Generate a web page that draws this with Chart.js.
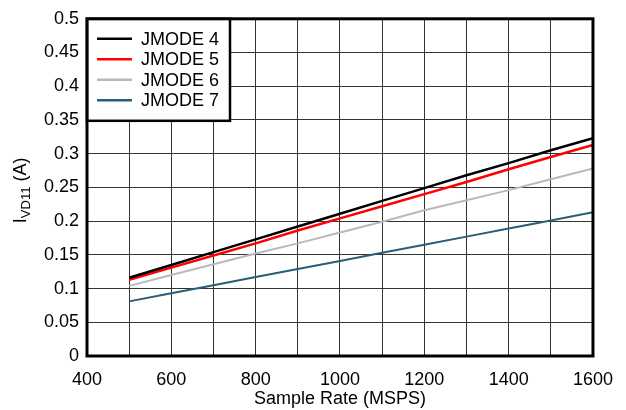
<!DOCTYPE html>
<html>
<head>
<meta charset="UTF-8">
<title>IVD11 vs Sample Rate</title>
<script src="https://cdn.jsdelivr.net/npm/chart.js@4"></script>
<style>
  body { margin: 0; background: #fff; }
  #wrap { width: 626px; height: 410px; }
</style>
</head>
<body>
<div id="wrap"><canvas id="myChart" width="626" height="410"></canvas></div>
<script>
// sample rate (MSPS)
var rates = [500, 600, 700, 800, 900, 1000, 1100, 1200, 1300, 1400, 1500, 1600];
// IVD11 current (A)
var jmode4 = [0.116, 0.135, 0.154, 0.173, 0.192, 0.211, 0.230, 0.249, 0.268, 0.286, 0.305, 0.323];
var jmode5 = [0.113, 0.131, 0.149, 0.167, 0.186, 0.204, 0.222, 0.240, 0.258, 0.277, 0.295, 0.313];
var jmode6 = [0.104, 0.120, 0.136, 0.152, 0.167, 0.183, 0.199, 0.216, 0.231, 0.246, 0.262, 0.278];
var jmode7 = [0.081, 0.093, 0.105, 0.117, 0.129, 0.141, 0.153, 0.165, 0.177, 0.189, 0.201, 0.213];
var seriesNames = ['JMODE 4', 'JMODE 5', 'JMODE 6', 'JMODE 7'];
var seriesColors = ['#000000', '#ff0000', '#b9b9b9', '#2b5d78'];
var xTickLabels = [400, 600, 800, 1000, 1200, 1400, 1600];

var FONT = '"Liberation Sans", Arial, Helvetica, sans-serif';

function pts(arr) {
  return arr.map(function (v, i) { return { x: rates[i], y: v }; });
}

var allSeries = [jmode4, jmode5, jmode6, jmode7];
var datasets = allSeries.map(function (s, i) {
  return {
    label: seriesNames[i],
    data: pts(s),
    borderColor: seriesColors[i],
    backgroundColor: seriesColors[i],
    borderWidth: i < 2 ? 2.5 : 2,
    pointRadius: 0,
    tension: 0
  };
});

// frame, legend box and subscripted y title
var extras = {
  id: 'extras',
  afterDatasetsDraw: function (chart) {
    var c = chart.ctx, a = chart.chartArea;
    c.save();
    // legend box
    var lx = a.left, ly = a.top, lw = 143, lh = 102;
    c.fillStyle = '#fff';
    c.fillRect(lx, ly, lw, lh);
    c.strokeStyle = '#000';
    c.lineWidth = 2.5;
    c.strokeRect(lx, ly, lw, lh);
    c.font = '18px ' + FONT;
    c.textBaseline = 'middle';
    for (var i = 0; i < seriesNames.length; i++) {
      var yy = ly + 20 + i * 20.5;
      c.strokeStyle = seriesColors[i];
      c.lineWidth = 2.5;
      c.beginPath();
      c.moveTo(lx + 10, yy);
      c.lineTo(lx + 45, yy);
      c.stroke();
      c.fillStyle = '#000';
      c.fillText(seriesNames[i], lx + 54, yy + 1);
    }
    // plot frame
    c.strokeStyle = '#000';
    c.lineWidth = 3;
    c.strokeRect(a.left, a.top, a.right - a.left, a.bottom - a.top);
    // y axis title: I_VD11 (A)
    c.translate(20, (a.top + a.bottom) / 2 + 3);
    c.rotate(-Math.PI / 2);
    c.fillStyle = '#000';
    c.textBaseline = 'alphabetic';
    c.font = '18px ' + FONT;
    var w1 = c.measureText('I').width;
    c.font = '13px ' + FONT;
    var w2 = c.measureText('VD11').width;
    c.font = '18px ' + FONT;
    var w3 = c.measureText(' (A)').width;
    var x0 = -(w1 + w2 + w3) / 2;
    c.fillText('I', x0, 6);
    c.font = '13px ' + FONT;
    c.fillText('VD11', x0 + w1, 10);
    c.font = '18px ' + FONT;
    c.fillText(' (A)', x0 + w1 + w2, 6);
    c.restore();
  }
};

var ctx = document.getElementById('myChart').getContext('2d');
var myChart = new Chart(ctx, {
  type: 'line',
  data: { datasets: datasets },
  options: {
    responsive: false,
    animation: false,
    layout: { padding: { top: 14, right: 33, left: 0, bottom: 0 } },
    plugins: { legend: { display: false }, tooltip: { enabled: false } },
    scales: {
      x: {
        type: 'linear',
        min: 400,
        max: 1600,
        afterBuildTicks: function (scale) {
          var t = [];
          for (var v = 400; v <= 1600; v += 100) t.push({ value: v });
          scale.ticks = t;
        },
        ticks: {
          autoSkip: false,
          maxRotation: 0,
          padding: 13,
          color: '#000',
          font: { family: FONT, size: 18 },
          callback: function (v) { return xTickLabels.indexOf(v) >= 0 ? String(v) : ''; }
        },
        grid: { color: '#333', lineWidth: 1, drawTicks: false },
        border: { display: false },
        title: {
          display: true,
          text: 'Sample Rate (MSPS)',
          color: '#000',
          font: { family: FONT, size: 18 },
          padding: { top: 0, bottom: 0 }
        },
        afterFit: function (scale) { scale.height = 54; }
      },
      y: {
        min: 0,
        max: 0.5,
        afterBuildTicks: function (scale) {
          var t = [];
          for (var k = 0; k <= 10; k++) t.push({ value: k * 0.05 });
          scale.ticks = t;
        },
        ticks: {
          padding: 8,
          color: '#000',
          font: { family: FONT, size: 18 },
          callback: function (v) { return String(parseFloat(v.toFixed(2))); }
        },
        grid: { color: '#333', lineWidth: 1, drawTicks: false },
        border: { display: false },
        afterFit: function (scale) { scale.width = 87; }
      }
    }
  },
  plugins: [extras]
});
</script>
</body>
</html>
